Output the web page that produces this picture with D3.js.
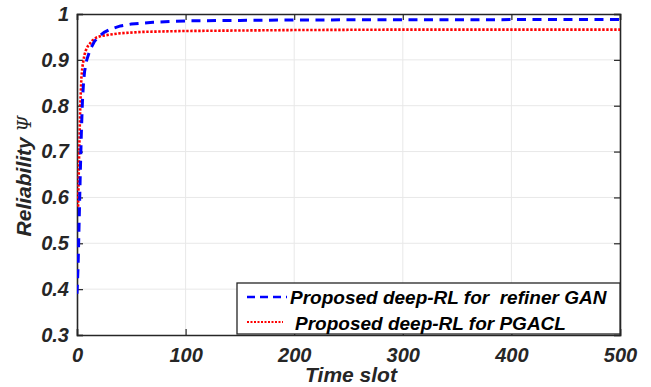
<!DOCTYPE html>
<html><head><meta charset="utf-8">
<script src="https://cdn.jsdelivr.net/npm/d3@7/dist/d3.min.js"></script>
<style>body{margin:0;background:#fff}svg{display:block}</style>
</head><body>
<svg id="c" width="651" height="387"></svg>
<script>
const xTicks = [0, 100, 200, 300, 400, 500];
const yTicks = [0.3, 0.4, 0.5, 0.6, 0.7, 0.8, 0.9, 1];
const yTickLabels = ["0.3", "0.4", "0.5", "0.6", "0.7", "0.8", "0.9", "1"];
const blueT = [0, 1, 2, 3, 4, 5, 6, 7, 9, 12, 16, 20, 25, 30, 40, 50, 70, 100, 150, 200, 300, 500];
const blueV = [0.39, 0.45, 0.55, 0.65, 0.74, 0.81, 0.85, 0.875, 0.9, 0.922, 0.94, 0.951, 0.96, 0.966, 0.974, 0.978, 0.982, 0.985, 0.986, 0.987, 0.9875, 0.988];
const redT = [1, 2, 3, 4, 5, 6, 7, 8, 10, 14, 18, 22, 30, 40, 60, 100, 200, 300, 500];
const redV = [0.58, 0.7, 0.8, 0.86, 0.885, 0.9, 0.912, 0.92, 0.93, 0.942, 0.949, 0.952, 0.955, 0.958, 0.961, 0.963, 0.965, 0.966, 0.966];
const seriesNames = ["Proposed deep-RL for  refiner GAN", "Proposed deep-RL for PGACL"];

const svg = d3.select("#c");
const L = 77, R = 620, T = 14, B = 335;
const x = d3.scaleLinear().domain([0, 500]).range([L, R]);
const y = d3.scaleLinear().domain([0.3, 1]).range([B, T]);
const font = "'Liberation Sans', Arial, sans-serif";

// grid
svg.append("g").selectAll("line").data(xTicks.slice(1, -1)).join("line")
  .attr("x1", d => x(d)).attr("x2", d => x(d)).attr("y1", T).attr("y2", B)
  .attr("stroke", "#e8e8e8").attr("stroke-width", 1);
svg.append("g").selectAll("line").data(yTicks.slice(1, -1)).join("line")
  .attr("x1", L).attr("x2", R).attr("y1", d => y(d)).attr("y2", d => y(d))
  .attr("stroke", "#e8e8e8").attr("stroke-width", 1);

// axes
const axB = svg.append("g").attr("transform", `translate(0,${B})`)
  .call(d3.axisBottom(x).tickValues(xTicks).tickSize(-6).tickPadding(13).tickFormat(d3.format("d")));
const axT = svg.append("g").attr("transform", `translate(0,${T})`)
  .call(d3.axisTop(x).tickValues(xTicks).tickSize(-6).tickFormat(""));
const axL = svg.append("g").attr("transform", `translate(${L},0)`)
  .call(d3.axisLeft(y).tickValues(yTicks).tickSize(-6).tickPadding(8).tickFormat((d, i) => yTickLabels[i]));
const axR = svg.append("g").attr("transform", `translate(${R},0)`)
  .call(d3.axisRight(y).tickValues(yTicks).tickSize(-6).tickFormat(""));
[axB, axT, axL, axR].forEach(a => {
  a.select(".domain").attr("stroke", "#262626").attr("stroke-width", 1.6);
  a.selectAll(".tick line").attr("stroke", "#262626").attr("stroke-width", 1.2);
  a.selectAll("text").attr("fill", "#262626").style("font-family", font)
    .style("font-size", "20px").style("font-weight", "bold").style("font-style", "italic");
});

const clip = svg.append("clipPath").attr("id", "cp").append("rect")
  .attr("x", L).attr("y", T - 3).attr("width", R - L).attr("height", B - T + 3);

const line = d3.line().x(d => x(d[0])).y(d => y(d[1]));
svg.append("path").datum(redT.map((t, i) => [t, redV[i]]))
  .attr("d", line).attr("fill", "none").attr("stroke", "#ff0000")
  .attr("stroke-width", 2.6).attr("stroke-dasharray", "2.4,1.6").attr("clip-path", "url(#cp)");
svg.append("path").datum(blueT.map((t, i) => [t, blueV[i]]))
  .attr("d", line).attr("fill", "none").attr("stroke", "#0000ff")
  .attr("stroke-width", 3).attr("stroke-dasharray", "9,6.5").attr("clip-path", "url(#cp)");

// legend
const lg = svg.append("g");
lg.append("rect").attr("x", 237).attr("y", 283).attr("width", 383).attr("height", 51)
  .attr("fill", "#fff").attr("stroke", "#262626").attr("stroke-width", 1.3);
lg.append("line").attr("x1", 247).attr("x2", 287).attr("y1", 297).attr("y2", 297)
  .attr("stroke", "#0000ff").attr("stroke-width", 2.5).attr("stroke-dasharray", "8,5");
lg.append("line").attr("x1", 247).attr("x2", 283).attr("y1", 322).attr("y2", 322)
  .attr("stroke", "#ff0000").attr("stroke-width", 2).attr("stroke-dasharray", "2,1.5");
lg.selectAll("text").data(seriesNames).join("text")
  .attr("x", (d, i) => i === 0 ? 290 : 295).attr("y", (d, i) => i === 0 ? 303.5 : 329.5)
  .attr("xml:space", "preserve")
  .text(d => d).attr("fill", "#000").style("font-family", font)
  .style("font-size", "19px").style("font-weight", "bold").style("font-style", "italic");

// axis labels
svg.append("text").attr("x", 351).attr("y", 382).attr("text-anchor", "middle")
  .text("Time slot").attr("fill", "#262626").style("font-family", font)
  .style("font-size", "21px").style("font-weight", "bold").style("font-style", "italic");
const yl = svg.append("text").attr("transform", "translate(31,176) rotate(-90)").attr("text-anchor", "middle")
  .attr("fill", "#262626").style("font-family", font);
yl.append("tspan").text("Reliability ").style("font-size", "21px").style("font-weight", "bold").style("font-style", "italic");
yl.append("tspan").text("Ψ").style("font-family", "'DejaVu Serif', 'Liberation Serif', serif").style("font-size", "18px").style("font-style", "italic");
</script>
</body></html>
